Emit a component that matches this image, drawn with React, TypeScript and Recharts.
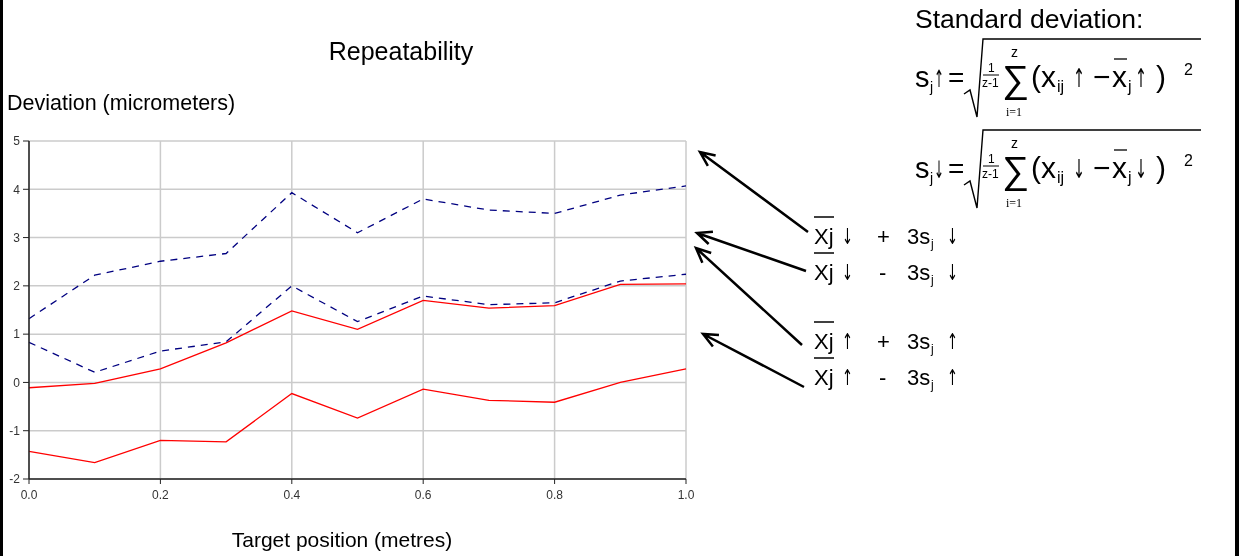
import { LineChart, Line, XAxis, YAxis, CartesianGrid } from 'recharts';

// target positions (metres)
const positions = [0, 0.1, 0.2, 0.3, 0.4, 0.5, 0.6, 0.7, 0.8, 0.9, 1.0];

// deviation (micrometers)
const downPlus3s = [1.32, 2.22, 2.51, 2.67, 3.93, 3.1, 3.8, 3.57, 3.5, 3.88, 4.07];
const downMinus3s = [0.83, 0.21, 0.65, 0.84, 2.0, 1.26, 1.79, 1.61, 1.65, 2.1, 2.24];
const upPlus3s = [-0.11, -0.02, 0.28, 0.82, 1.48, 1.1, 1.7, 1.54, 1.59, 2.03, 2.04];
const upMinus3s = [-1.43, -1.66, -1.2, -1.23, -0.23, -0.74, -0.14, -0.37, -0.41, 0.0, 0.28];

const xTicks = [0, 0.2, 0.4, 0.6, 0.8, 1.0];
const yTicks = [-2, -1, 0, 1, 2, 3, 4, 5];

const data = positions.map((x, i) => ({
    x,
    downPlus: downPlus3s[i],
    downMinus: downMinus3s[i],
    upPlus: upPlus3s[i],
    upMinus: upMinus3s[i],
}));

const FONT = '"Liberation Sans", Arial, sans-serif';
const SERIF = '"Liberation Serif", "Times New Roman", serif';
const ARROW_FONT = '"DejaVu Sans", sans-serif';

// annotation arrows: tail -> tip
const arrows = [
    [808, 232, 700, 152],
    [806, 271, 697, 233],
    [802, 345, 696, 248],
    [804, 387, 703, 334],
];

const labelRows = [
    { base: 244, arrow: '↓', sign: '+' },
    { base: 280, arrow: '↓', sign: '-' },
    { base: 349, arrow: '↑', sign: '+' },
    { base: 385, arrow: '↑', sign: '-' },
];

function arrowPath(x1: number, y1: number, x2: number, y2: number) {
    const a = Math.atan2(y2 - y1, x2 - x1);
    const L = 16;
    const w = 0.42;
    const p1 = [x2 - L * Math.cos(a - w), y2 - L * Math.sin(a - w)];
    const p2 = [x2 - L * Math.cos(a + w), y2 - L * Math.sin(a + w)];
    return `M${x1},${y1}L${x2},${y2}M${p1[0]},${p1[1]}L${x2},${y2}L${p2[0]},${p2[1]}`;
}

// thin arrow glyph, squeezed horizontally to a given width
function Arr({ x, y, size, w, ch }: { x: number; y: number; size: number; w: number; ch: string }) {
    const sx = w / (0.838 * size);
    return (
        <text
            transform={`translate(${x},${y}) scale(${sx},1)`}
            fontSize={size}
            fontFamily={ARROW_FONT}
            fill="#000"
        >
            {ch}
        </text>
    );
}

function LabelRow({ base, arrow, sign }: { base: number; arrow: string; sign: string }) {
    return (
        <g fontFamily={FONT} fill="#000">
            <text x={814} y={base} fontSize={22}>Xj</text>
            <line x1={814} x2={834} y1={base - 27} y2={base - 27} stroke="#000" strokeWidth={1.5} />
            <Arr x={842} y={base} size={22} w={11} ch={arrow} />
            <text x={sign === '+' ? 877 : 879} y={base} fontSize={22}>{sign}</text>
            <text x={907} y={base} fontSize={22}>3s</text>
            <text x={931} y={base + 4} fontSize={12}>j</text>
            <Arr x={947} y={base} size={22} w={11} ch={arrow} />
        </g>
    );
}

function Formula({ base, arrow }: { base: number; arrow: string }) {
    const B = base;
    return (
        <g fontFamily={FONT} fill="#000">
            <text x={915} y={B} fontSize={29}>s</text>
            <text x={930} y={B + 5} fontSize={14}>j</text>
            <Arr x={934} y={B} size={24} w={10} ch={arrow} />
            <text x={948} y={B} fontSize={28}>=</text>
            <path
                d={`M964,${B + 7}L970,${B + 3}L977,${B + 30}L983,${B - 48}L1201,${B - 48}`}
                fill="none"
                stroke="#000"
                strokeWidth={1.4}
            />
            <text x={988} y={B - 15} fontSize={12}>1</text>
            <line x1={983} x2={999} y1={B - 12} y2={B - 12} stroke="#000" strokeWidth={1} />
            <text x={982} y={B} fontSize={12}>z-1</text>
            <text x={1002} y={B + 5} fontSize={38}>∑</text>
            <text x={1011} y={B - 30} fontSize={14}>z</text>
            <text x={1006} y={B + 29} fontSize={12} fontFamily={SERIF}>i=1</text>
            <text x={1031} y={B} fontSize={30}>(x</text>
            <text x={1057} y={B + 5} fontSize={16}>ij</text>
            <Arr x={1073} y={B} size={26} w={12} ch={arrow} />
            <text x={1093} y={B} fontSize={30}>−</text>
            <text x={1112} y={B} fontSize={30}>x</text>
            <line x1={1114} x2={1127} y1={B - 28} y2={B - 28} stroke="#000" strokeWidth={1.3} />
            <text x={1128} y={B + 5} fontSize={16}>j</text>
            <Arr x={1135} y={B} size={26} w={12} ch={arrow} />
            <text x={1156} y={B} fontSize={30}>)</text>
            <text x={1184} y={B - 12} fontSize={16}>2</text>
        </g>
    );
}

export default function App() {
    return (
        <div
            style={{
                position: 'absolute',
                left: 0,
                top: 0,
                width: 1239,
                height: 556,
                background: '#fff',
                overflow: 'hidden',
                fontFamily: FONT,
            }}
        >
            <LineChart
                width={1239}
                height={556}
                data={data}
                margin={{ top: 141, right: 553, bottom: 47, left: 9 }}
                style={{ willChange: 'transform' }}
            >
                <CartesianGrid stroke="#cbcbcb" strokeWidth={1.5} />
                <XAxis
                    dataKey="x"
                    type="number"
                    domain={[0, 1]}
                    ticks={xTicks}
                    tickFormatter={(v: number) => v.toFixed(1)}
                    height={30}
                    tickSize={5}
                    tickMargin={6}
                    axisLine={{ stroke: '#222', strokeWidth: 1.5 }}
                    tickLine={{ stroke: '#222' }}
                    tick={{ fill: '#333', fontSize: 12, fontFamily: FONT }}
                />
                <YAxis
                    type="number"
                    domain={[-2, 5]}
                    ticks={yTicks}
                    width={20}
                    tickSize={6}
                    tickMargin={3}
                    axisLine={{ stroke: '#222', strokeWidth: 1.5 }}
                    tickLine={{ stroke: '#222' }}
                    tick={{ fill: '#333', fontSize: 12, fontFamily: FONT }}
                />
                <Line type="linear" dataKey="upMinus" stroke="#ff0000" strokeWidth={1.3} dot={false} isAnimationActive={false} />
                <Line type="linear" dataKey="upPlus" stroke="#ff0000" strokeWidth={1.3} dot={false} isAnimationActive={false} />
                <Line type="linear" dataKey="downMinus" stroke="#000080" strokeWidth={1.3} strokeDasharray="7 6" dot={false} isAnimationActive={false} />
                <Line type="linear" dataKey="downPlus" stroke="#000080" strokeWidth={1.3} strokeDasharray="7 6" dot={false} isAnimationActive={false} />
            </LineChart>

            {/* annotation layer; own compositing layer keeps text grayscale-antialiased */}
            <svg
                width={1239}
                height={556}
                style={{ position: 'absolute', left: 0, top: 0, pointerEvents: 'none', willChange: 'transform' }}
            >
                <text x={401} y={60} fontSize={25} textAnchor="middle" fontFamily={FONT}>Repeatability</text>
                <text x={7} y={110} fontSize={21.5} fontFamily={FONT}>Deviation (micrometers)</text>
                <text x={342} y={547} fontSize={21} textAnchor="middle" fontFamily={FONT}>Target position (metres)</text>

                <text x={915} y={28} fontSize={26.5} fontFamily={FONT}>Standard deviation:</text>
                <Formula base={87} arrow="↑" />
                <Formula base={178} arrow="↓" />

                {arrows.map(([x1, y1, x2, y2], i) => (
                    <path key={i} d={arrowPath(x1, y1, x2, y2)} fill="none" stroke="#000" strokeWidth={2.5} />
                ))}
                {labelRows.map((r, i) => (
                    <LabelRow key={i} base={r.base} arrow={r.arrow} sign={r.sign} />
                ))}

                <rect x={0} y={0} width={3} height={556} fill="#000" />
                <rect x={1235} y={0} width={4} height={556} fill="#000" />
            </svg>
        </div>
    );
}
